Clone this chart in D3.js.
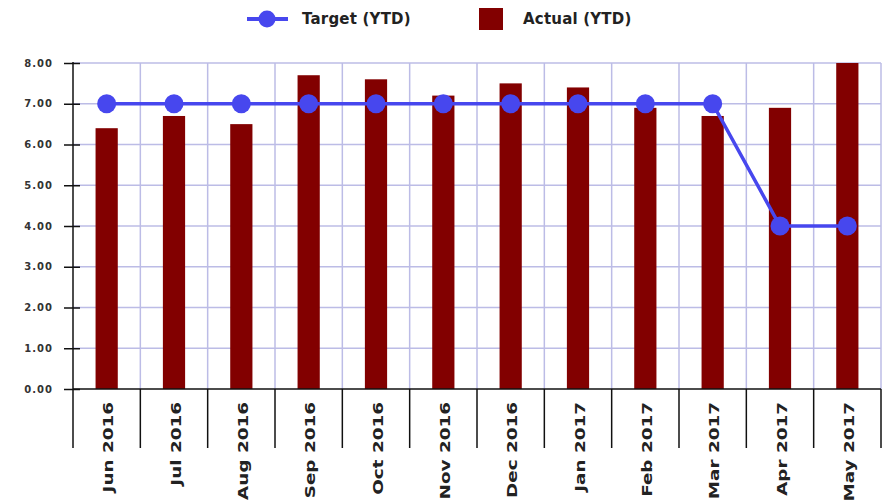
<!DOCTYPE html>
<html>
<head>
<meta charset="utf-8">
<script src="https://cdn.jsdelivr.net/npm/d3@7"></script>
<style>
  html, body { margin: 0; padding: 0; background: #fff; }
  svg { display: block; }
</style>
</head>
<body>
<svg id="chart" width="883" height="502"></svg>
<script>
// Monthly YTD figures
const months = ["Jun 2016","Jul 2016","Aug 2016","Sep 2016","Oct 2016","Nov 2016",
                "Dec 2016","Jan 2017","Feb 2017","Mar 2017","Apr 2017","May 2017"];
const actualYTD = [6.4, 6.7, 6.5, 7.7, 7.6, 7.2, 7.5, 7.4, 6.9, 6.7, 6.9, 8.0];
const targetYTD = [7, 7, 7, 7, 7, 7, 7, 7, 7, 7, 4, 4];
const yTicks = [0, 1, 2, 3, 4, 5, 6, 7, 8];
const legendLabels = ["Target (YTD)", "Actual (YTD)"];

const barColor = "#820000";
const lineColor = "#4747ee";
const gridColor = "#bcbce6";

const svg = d3.select("#chart");
const plotLeft = 73, plotRight = 881, plotTop = 63, plotBottom = 389;

const x = d3.scaleBand().domain(months).range([plotLeft, plotRight]).padding(0);
const y = d3.scaleLinear().domain([0, 8]).range([plotBottom, plotTop]);
const bw = x.bandwidth() * 0.33;

// grid
const grid = svg.append("g");
grid.selectAll("line.h").data(yTicks.slice(1)).join("line")
  .attr("x1", plotLeft).attr("x2", plotRight)
  .attr("y1", d => y(d)).attr("y2", d => y(d))
  .attr("stroke", gridColor).attr("stroke-width", 1.5);
const bounds = months.map(m => x(m)).concat([x.range()[1]]);
grid.selectAll("line.v").data(bounds.slice(1)).join("line")
  .attr("x1", d => d).attr("x2", d => d)
  .attr("y1", plotTop).attr("y2", plotBottom)
  .attr("stroke", gridColor).attr("stroke-width", 1.5);

// bars
svg.append("g").selectAll("rect").data(months).join("rect")
  .attr("x", (d) => x(d) + (x.bandwidth() - bw) / 2)
  .attr("width", bw)
  .attr("y", (d, i) => y(actualYTD[i]))
  .attr("height", (d, i) => plotBottom - y(actualYTD[i]))
  .attr("fill", barColor);

// target line
const line = d3.line()
  .x((d, i) => x(months[i]) + x.bandwidth() / 2)
  .y(d => y(d));
svg.append("path").datum(targetYTD)
  .attr("d", line)
  .attr("fill", "none")
  .attr("stroke", lineColor)
  .attr("stroke-width", 3.5);
svg.append("g").selectAll("circle").data(targetYTD).join("circle")
  .attr("cx", (d, i) => x(months[i]) + x.bandwidth() / 2)
  .attr("cy", d => y(d))
  .attr("r", 9.5)
  .attr("fill", lineColor);

// y axis
const yAxis = svg.append("g")
  .attr("transform", `translate(${plotLeft},0)`)
  .call(d3.axisLeft(y).tickValues(yTicks).tickFormat(d3.format(".2f")).tickSize(9).tickPadding(11));
yAxis.select(".domain").remove();
yAxis.selectAll(".tick line").attr("x1", -9).attr("x2", 7)
  .attr("stroke", "#111").attr("stroke-width", 1.5);
yAxis.selectAll(".tick text")
  .attr("font-family", "DejaVu Sans, sans-serif")
  .attr("font-weight", "bold")
  .attr("font-size", 10)
  .attr("letter-spacing", 1)
  .attr("fill", "#333");
svg.append("line")
  .attr("x1", plotLeft).attr("x2", plotLeft).attr("y1", plotTop - 1).attr("y2", plotBottom)
  .attr("stroke", "#111").attr("stroke-width", 1.5);

// x axis with category dividers
svg.append("line")
  .attr("x1", plotLeft).attr("x2", plotRight).attr("y1", plotBottom).attr("y2", plotBottom)
  .attr("stroke", "#111").attr("stroke-width", 1.5);
svg.append("g").selectAll("line").data(bounds).join("line")
  .attr("x1", d => d).attr("x2", d => d)
  .attr("y1", plotBottom).attr("y2", 448)
  .attr("stroke", "#111").attr("stroke-width", 1.5);
const xAxis = svg.append("g")
  .attr("transform", `translate(0,${plotBottom})`)
  .call(d3.axisBottom(x).tickSize(0).tickPadding(0));
xAxis.select(".domain").remove();
xAxis.selectAll(".tick text")
  .attr("font-family", "DejaVu Sans, sans-serif")
  .attr("font-size", 13.5)
  .attr("font-weight", "bold")
  .attr("fill", "#222")
  .attr("text-anchor", "end")
  .attr("y", 0).attr("dy", null)
  .attr("transform", "translate(3,13) rotate(-90) scale(1.36,1)")
  .attr("dominant-baseline", "middle");

// legend
const lg = svg.append("g").attr("font-family", "DejaVu Sans, sans-serif")
  .attr("font-weight", "bold").attr("font-size", 15).attr("fill", "#222");
lg.append("line").attr("x1", 247).attr("x2", 288).attr("y1", 19).attr("y2", 19)
  .attr("stroke", lineColor).attr("stroke-width", 4);
lg.append("circle").attr("cx", 267).attr("cy", 19).attr("r", 8.5).attr("fill", lineColor);
lg.append("text").attr("x", 302).attr("y", 19).attr("dominant-baseline", "middle")
  .attr("letter-spacing", 0.2).text(legendLabels[0]);
lg.append("rect").attr("x", 479).attr("y", 8).attr("width", 24).attr("height", 22).attr("fill", barColor);
lg.append("text").attr("x", 523).attr("y", 19).attr("dominant-baseline", "middle")
  .attr("letter-spacing", 0.2).text(legendLabels[1]);
</script>
</body>
</html>
